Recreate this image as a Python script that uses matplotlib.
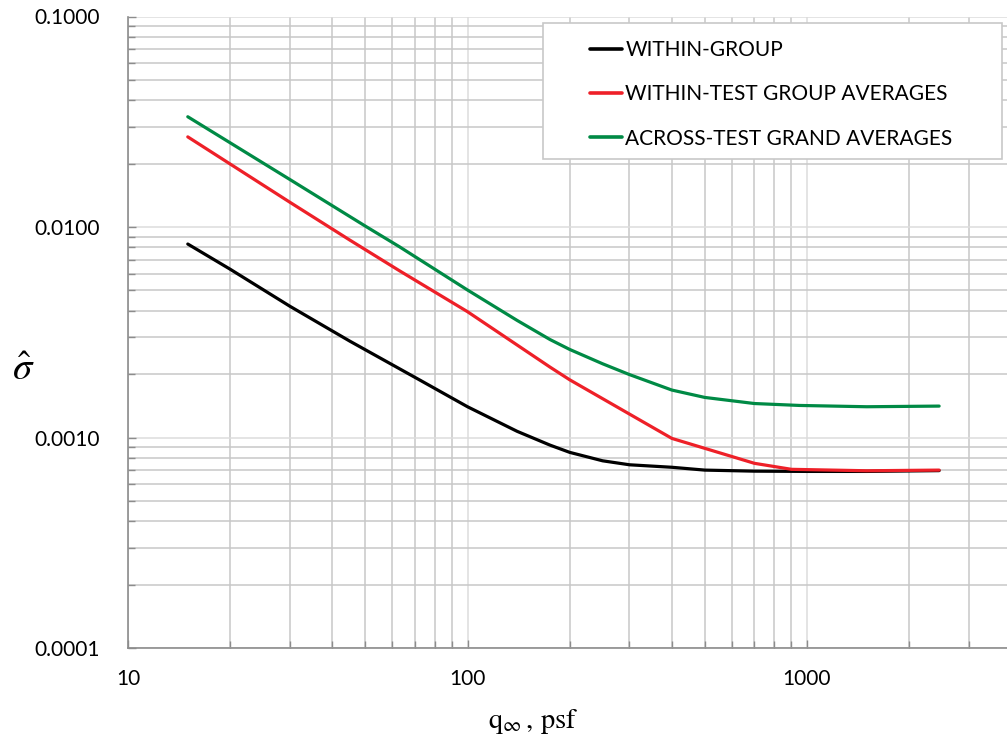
import matplotlib
matplotlib.use("Agg")
import matplotlib.pyplot as plt
from matplotlib.patches import Rectangle
from matplotlib.ticker import FixedLocator, FuncFormatter, NullFormatter

# ---- data ----
q_within = [15, 20, 30, 45, 73, 100, 140, 175, 200, 250, 300, 400, 500, 700, 1000, 1500, 2450]
s_within = [0.0083, 0.0063, 0.0042, 0.00287, 0.00186, 0.00140, 0.00107, 0.00092, 0.00085,
            0.000775, 0.000742, 0.000722, 0.000700, 0.000692, 0.00069, 0.00069, 0.000696]

q_test = [15, 30, 45, 63, 100, 175, 200, 400, 700, 900, 1500, 2450]
s_test = [0.0268, 0.0131, 0.00867, 0.0062, 0.00396, 0.00216, 0.00188, 0.00099,
          0.000754, 0.000706, 0.000695, 0.0007]

q_grand = [15, 30, 50, 63, 100, 140, 175, 200, 250, 300, 400, 500, 700, 950, 1500, 2450]
s_grand = [0.0334, 0.0168, 0.0101, 0.00806, 0.00502, 0.0036, 0.00292, 0.00262, 0.00224,
           0.00199, 0.00168, 0.00155, 0.00145, 0.00142, 0.00140, 0.00141]

labels = ["WITHIN-GROUP", "WITHIN-TEST GROUP AVERAGES", "ACROSS-TEST GRAND AVERAGES"]
colors = ["#000000", "#EE2028", "#008A45"]

x_ticks = [10, 100, 1000]
x_tick_labels = ["10", "100", "1000"]
y_ticks = [0.0001, 0.001, 0.01, 0.1]
y_tick_labels = ["0.0001", "0.0010", "0.0100", "0.1000"]

# ---- figure ----
W, H = 1007, 743
fig = plt.figure(figsize=(W / 100, H / 100), dpi=100)
plt.rcParams['font.family'] = ['Lato', 'DejaVu Sans']
plt.rcParams['mathtext.fontset'] = 'stix'

left, right, top, bottom = 128, 1007, 16.5, 648
ax = fig.add_axes([left / W, (H - bottom) / H, (right - left) / W, (bottom - top) / H])
ax.set_xscale('log')
ax.set_yscale('log')
ax.set_xlim(10, 10 ** (1 + (right - left) / 339.5))
ax.set_ylim(0.0001, 0.1)

for q, s, lab, c in zip([q_within, q_test, q_grand], [s_within, s_test, s_grand], labels, colors):
    ax.plot(q, s, color=c, lw=2.3, label=lab, solid_capstyle='round', solid_joinstyle='round', zorder=3)

# grid
ax.grid(True, which='major', color='#dcdcdc', lw=1.1, zorder=0)
ax.grid(True, which='minor', color='#c8c8c8', lw=1.1, zorder=0)
ax.set_axisbelow(True)

ax.xaxis.set_major_locator(FixedLocator(x_ticks))
ax.xaxis.set_major_formatter(FuncFormatter(lambda v, p: x_tick_labels[x_ticks.index(v)] if v in x_ticks else ""))
ax.yaxis.set_major_locator(FixedLocator(y_ticks))
ax.yaxis.set_major_formatter(FuncFormatter(lambda v, p: y_tick_labels[y_ticks.index(v)] if v in y_ticks else ""))
ax.xaxis.set_minor_formatter(NullFormatter())
ax.yaxis.set_minor_formatter(NullFormatter())

for sp in ['top', 'right']:
    ax.spines[sp].set_visible(False)
for sp in ['left', 'bottom']:
    ax.spines[sp].set_color('#8c8c8c')
    ax.spines[sp].set_linewidth(1.2)

ax.tick_params(axis='both', which='both', direction='in', color='#8c8c8c', width=1.0)
ax.tick_params(axis='both', which='major', length=6)
ax.tick_params(axis='both', which='minor', length=5)
ax.tick_params(axis='y', which='major', labelsize=15, pad=20, labelcolor='black')
ax.tick_params(axis='x', which='major', labelsize=15, pad=15, labelcolor='black')

# axis labels placed at reference pixel positions
fig.text(533 / W, 1 - 722 / H, r"$\mathrm{q}_{\infty}\mathrm{\,,\,psf}$", ha='center', va='center',
         fontsize=20.5)
fig.text(23 / W, 1 - 369 / H, r"$\hat{\sigma}$", ha='center', va='center', fontsize=28)

# legend frame (drawn separately so the padding matches the reference)
frame = Rectangle((543 / W, 1 - 159 / H), 459 / W, 136 / H, transform=fig.transFigure,
                  facecolor='white', edgecolor='#c8c8c8', lw=1.2, zorder=4, clip_on=False)
ax.add_patch(frame)

leg = ax.legend(loc='upper left', bbox_to_anchor=(590 / W, 1 - 40 / H), bbox_transform=fig.transFigure,
                fontsize=15, frameon=False,
                handlelength=1.55, handletextpad=0.15, borderpad=0, labelspacing=1.17,
                borderaxespad=0)
leg.set_zorder(5)
for t in leg.get_texts():
    t.set_color('black')
for h in leg.get_lines():
    h.set_linewidth(2.6)

fig.savefig("out.png", dpi=100)
